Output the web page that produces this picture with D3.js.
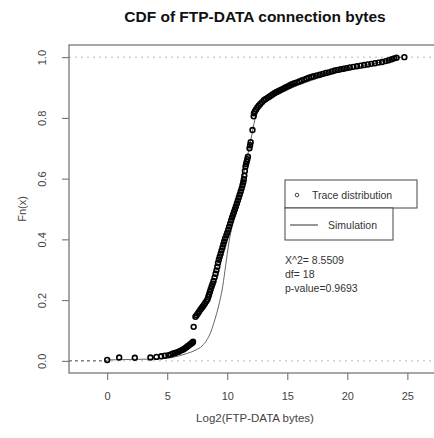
<!DOCTYPE html>
<html lang="en">
<head>
    <meta charset="UTF-8">
    <title>CDF of FTP-DATA connection bytes</title>
    <style>
        body { margin: 0; background: #fff; }
        text { font-family: "Liberation Sans", Arial, sans-serif; }
    </style>
    <script src="https://d3js.org/d3.v7.min.js" charset="utf-8"></script>
</head>
<body>
    <script>
        // observed ECDF points (log2 bytes, Fn)
        const traceX = [0, 1.0, 2.3, 3.6, 4.1, 4.5, 4.8, 5.1, 5.3,
            5.5, 5.65, 5.8, 5.95, 6.1, 6.25, 6.4, 6.5, 6.6, 6.7, 6.8, 6.9, 7.0, 7.1, 7.15,
            7.2,
            7.35, 7.45, 7.55, 7.65, 7.75, 7.85, 7.95, 8.05, 8.15, 8.25, 8.35, 8.42, 8.48, 8.55, 8.62, 8.7, 8.78, 8.86,
            8.95, 9.03, 9.1, 9.17, 9.23, 9.3, 9.37, 9.45, 9.52, 9.6, 9.67, 9.74, 9.82,
            9.92, 10.0, 10.08, 10.16, 10.24, 10.32, 10.4, 10.48, 10.56, 10.64, 10.72, 10.8, 10.88, 10.96, 11.04, 11.12, 11.2, 11.27, 11.33, 11.38,
            11.42, 11.47, 11.52, 11.57, 11.62, 11.67, 11.72,
            11.85, 11.9, 11.95,
            12.1,
            12.2, 12.22, 12.3, 12.4, 12.5, 12.62, 12.75, 12.9, 13.05, 13.2, 13.35, 13.5, 13.65, 13.8, 13.95, 14.1, 14.25, 14.4, 14.55, 14.7, 14.85,
            15.0, 15.15, 15.3, 15.45, 15.6, 15.8, 16.0, 16.2, 16.4, 16.6, 16.8, 17.0, 17.2, 17.45, 17.7, 17.95, 18.2, 18.45, 18.7, 18.95,
            19.2, 19.45, 19.7, 19.95, 20.2, 20.5, 20.8, 21.1, 21.4, 21.7, 22.0, 22.3, 22.6, 22.9, 23.2, 23.45, 23.7, 23.9, 24.1, 24.75]
        const traceY = [0.003, 0.011, 0.010, 0.011, 0.013, 0.015, 0.017, 0.019, 0.021,
            0.024, 0.026, 0.028, 0.030, 0.033, 0.036, 0.039, 0.042, 0.045, 0.048, 0.051, 0.054, 0.057, 0.060, 0.063,
            0.112,
            0.145, 0.150, 0.156, 0.162, 0.168, 0.173, 0.178, 0.184, 0.190, 0.196, 0.202, 0.210, 0.218, 0.227, 0.236, 0.245, 0.254, 0.263,
            0.275, 0.287, 0.298, 0.310, 0.322, 0.333, 0.343, 0.353, 0.363, 0.373, 0.383, 0.393, 0.403,
            0.413, 0.422, 0.432, 0.442, 0.452, 0.462, 0.472, 0.481, 0.490, 0.499, 0.508, 0.518, 0.528, 0.538, 0.548, 0.558, 0.568, 0.578, 0.588, 0.598,
            0.610, 0.625, 0.640, 0.648, 0.656, 0.664, 0.672,
            0.700, 0.710, 0.720,
            0.760,
            0.805, 0.815, 0.822, 0.828, 0.834, 0.840, 0.846, 0.852, 0.858, 0.862, 0.866, 0.870, 0.874, 0.878, 0.882, 0.885, 0.888, 0.891, 0.894, 0.897, 0.900,
            0.903, 0.906, 0.909, 0.912, 0.914, 0.917, 0.920, 0.923, 0.926, 0.929, 0.932, 0.935, 0.937, 0.940, 0.942, 0.945, 0.948, 0.950, 0.953, 0.956,
            0.958, 0.960, 0.962, 0.964, 0.966, 0.968, 0.970, 0.972, 0.974, 0.976, 0.978, 0.980, 0.982, 0.984, 0.987, 0.990, 0.993, 0.996, 0.998, 1.0]

        // simulated CDF
        const simX = [0, 2.3, 4.2, 5.5, 6.7, 7.4, 7.9, 8.3, 8.6, 8.86, 9.11, 9.36, 9.62, 9.87, 10.12, 10.54, 10.95, 11.29, 11.54, 11.79,
            12.04, 12.29, 12.54, 12.88, 13.46, 14.46, 16.14, 17.81, 19.48, 21.15, 22.83, 24.08, 24.5]
        const simY = [0.003, 0.005, 0.006, 0.012, 0.025, 0.036, 0.049, 0.069, 0.092, 0.122, 0.155, 0.194, 0.245, 0.315, 0.385, 0.47, 0.549, 0.602, 0.648, 0.694,
            0.743, 0.793, 0.819, 0.839, 0.859, 0.882, 0.911, 0.934, 0.954, 0.970, 0.984, 0.997, 1.0]

        const xTicks = [0, 5, 10, 15, 20, 25]
        const yTicks = [0, 0.2, 0.4, 0.6, 0.8, 1.0]
        const legendLabels = ['Trace distribution', 'Simulation']
        const statsLines = ['X^2= 8.5509', 'df= 18', 'p-value=0.9693']

        const width = 434
        const height = 438
        const box = { left: 69, top: 45, right: 441, bottom: 373 }

        const svg = d3.select('body').append('svg').attr('width', width).attr('height', height)

        const xscale = d3.scaleLinear().domain([-3.18, 27.8]).range([box.left, box.right])
        const yscale = d3.scaleLinear().domain([-0.04, 1.04]).range([box.bottom, box.top])

        // title
        svg.append('text')
            .attr('x', 255).attr('y', 22)
            .attr('text-anchor', 'middle')
            .attr('font-size', 15.5).attr('font-weight', 'bold')
            .attr('fill', '#111')
            .text('CDF of FTP-DATA connection bytes')

        // reference lines at 0 and 1
        svg.append('g').selectAll('line')
            .data([0, 1])
            .enter().append('line')
            .attr('x1', box.left).attr('x2', box.right)
            .attr('y1', d => yscale(d)).attr('y2', d => yscale(d))
            .attr('stroke', '#bbb').attr('stroke-width', 1)
            .attr('stroke-dasharray', '2,4')
        svg.append('line')
            .attr('x1', box.left).attr('x2', xscale(traceX[0]))
            .attr('y1', yscale(0)).attr('y2', yscale(0))
            .attr('stroke', '#555').attr('stroke-width', 1)
            .attr('stroke-dasharray', '3,3')

        // axes
        const xAxis = d3.axisBottom(xscale).tickValues(xTicks).tickSize(7).tickSizeOuter(0).tickPadding(12)
        const yAxis = d3.axisLeft(yscale).tickValues(yTicks).tickSize(7).tickSizeOuter(0).tickFormat(d3.format('.1f'))

        const gx = svg.append('g').attr('transform', `translate(0, ${box.bottom})`).call(xAxis)
        gx.select('.domain').remove()
        gx.selectAll('line').attr('stroke', '#666')
        gx.selectAll('text').attr('font-size', 11).attr('fill', '#444').attr('font-family', '"Liberation Sans", Arial, sans-serif')

        const gy = svg.append('g').attr('transform', `translate(${box.left}, 0)`).call(yAxis)
        gy.select('.domain').remove()
        gy.selectAll('line').attr('stroke', '#666')
        gy.selectAll('text')
            .attr('font-size', 11).attr('fill', '#444').attr('font-family', '"Liberation Sans", Arial, sans-serif')
            .attr('text-anchor', 'middle')
            .attr('x', 0).attr('dy', null)
            .attr('transform', d => `translate(-27, 0) rotate(-90)`)
            .attr('y', 4)

        svg.append('text')
            .attr('x', 255).attr('y', 422)
            .attr('text-anchor', 'middle')
            .attr('font-size', 11.5).attr('fill', '#444')
            .text('Log2(FTP-DATA bytes)')
        svg.append('text')
            .attr('transform', `translate(26, ${(box.top + box.bottom) / 2}) rotate(-90)`)
            .attr('text-anchor', 'middle')
            .attr('font-size', 11).attr('fill', '#444')
            .text('Fn(x)')

        // frame
        svg.append('rect')
            .attr('x', box.left).attr('y', box.top)
            .attr('width', box.right - box.left).attr('height', box.bottom - box.top)
            .attr('fill', 'none').attr('stroke', '#777').attr('stroke-width', 1.3)

        // simulation curve
        const simData = simX.map((x, i) => [x, simY[i]])
        svg.append('path')
            .datum(simData)
            .attr('d', d3.line().x(d => xscale(d[0])).y(d => yscale(d[1])).curve(d3.curveMonotoneX))
            .attr('fill', 'none').attr('stroke', '#666').attr('stroke-width', 1)

        // trace points
        const traceData = traceX.map((x, i) => [x, traceY[i]])
        svg.append('g')
            .selectAll('circle')
            .data(traceData)
            .enter().append('circle')
            .attr('cx', d => xscale(d[0]))
            .attr('cy', d => yscale(d[1]))
            .attr('r', 2.4)
            .attr('fill', 'none').attr('stroke', '#000').attr('stroke-width', 1.6)

        // legend
        const lg = svg.append('g').attr('font-size', 10.5).attr('fill', '#333')
        lg.append('rect').attr('x', 285).attr('y', 180).attr('width', 132).attr('height', 28)
            .attr('fill', '#fff').attr('stroke', '#444').attr('stroke-width', 1)
        lg.append('rect').attr('x', 285).attr('y', 208).attr('width', 108).attr('height', 32)
            .attr('fill', '#fff').attr('stroke', '#444').attr('stroke-width', 1)
        lg.append('circle').attr('cx', 297).attr('cy', 195).attr('r', 1.8)
            .attr('fill', 'none').attr('stroke', '#333').attr('stroke-width', 0.9)
        lg.append('text').attr('x', 312).attr('y', 198.5).attr('fill', '#333').text(legendLabels[0])
        lg.append('line').attr('x1', 290).attr('x2', 318).attr('y1', 225).attr('y2', 225)
            .attr('stroke', '#333').attr('stroke-width', 1)
        lg.append('text').attr('x', 328).attr('y', 228.5).attr('fill', '#333').text(legendLabels[1])

        // goodness of fit stats
        svg.append('g').selectAll('text')
            .data(statsLines)
            .enter().append('text')
            .attr('x', 285).attr('y', (d, i) => 264 + i * 14)
            .attr('font-size', 10.5).attr('fill', '#333')
            .text(d => d)
    </script>
</body>
</html>
